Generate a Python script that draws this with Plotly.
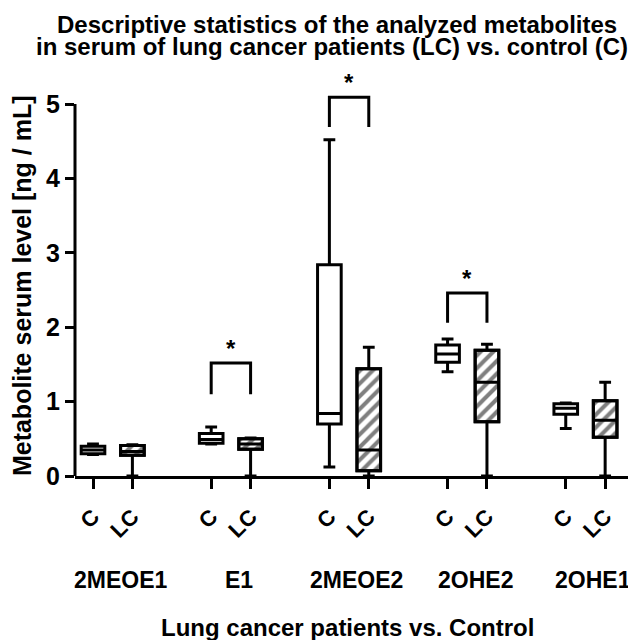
import plotly.graph_objects as go

# ---- data ----
categories = ["2MEOE1", "E1", "2MEOE2", "2OHE2", "2OHE1"]
group_labels = ["C", "LC"]

c_min = [0.29, 0.43, 0.12, 1.40, 0.64]
c_q1 = [0.30, 0.44, 0.70, 1.53, 0.83]
c_med = [0.35, 0.49, 0.84, 1.64, 0.91]
c_q3 = [0.40, 0.57, 2.84, 1.76, 0.97]
c_max = [0.43, 0.66, 4.52, 1.84, 0.98]

lc_min = [0.0, 0.0, 0.0, 0.0, 0.0]
lc_q1 = [0.28, 0.36, 0.07, 0.73, 0.52]
lc_med = [0.33, 0.43, 0.35, 1.26, 0.75]
lc_q3 = [0.41, 0.50, 1.44, 1.69, 1.01]
lc_max = [0.42, 0.51, 1.73, 1.77, 1.26]

# significance brackets
sig_cats = ["E1", "2MEOE2", "2OHE2"]
sig_top = [1.52, 5.09, 2.46]
sig_leg = [1.10, 4.69, 2.06]
sig_star = [1.72, 5.29, 2.66]

y_ticks = [0, 1, 2, 3, 4, 5]

FONT = "Liberation Sans, Arial, sans-serif"


def bfont(size):
    return dict(family=FONT, size=size, color="black", weight="bold")


# positions: C at 3*i, LC at 3*i+1
c_x = [3 * i for i in range(len(categories))]
lc_x = [3 * i + 1 for i in range(len(categories))]

fig = go.Figure()

# hatched bodies for LC boxes
fig.add_trace(go.Bar(
    x=lc_x, base=lc_q1, y=[q3 - q1 for q1, q3 in zip(lc_q1, lc_q3)],
    width=0.6,
    marker=dict(color="white", line=dict(color="black", width=3),
                pattern=dict(shape="/", fgcolor="black", bgcolor="white",
                             size=9, solidity=0.45)),
    showlegend=False, hoverinfo="skip"))

fig.add_trace(go.Box(
    x=c_x, q1=c_q1, median=c_med, q3=c_q3, lowerfence=c_min, upperfence=c_max,
    width=0.6, whiskerwidth=0.5, fillcolor="white",
    line=dict(color="black", width=3), boxpoints=False,
    showlegend=False, hoverinfo="skip"))

fig.add_trace(go.Box(
    x=lc_x, q1=lc_q1, median=lc_med, q3=lc_q3, lowerfence=lc_min, upperfence=lc_max,
    width=0.6, whiskerwidth=0.5, fillcolor="rgba(0,0,0,0)",
    line=dict(color="black", width=3), boxpoints=False,
    showlegend=False, hoverinfo="skip"))

shapes = []
annotations = []
for cat, top, leg, star in zip(sig_cats, sig_top, sig_leg, sig_star):
    i = categories.index(cat)
    x0, x1 = c_x[i], lc_x[i]
    shapes.append(dict(type="path", xref="x", yref="y",
                       path=f"M {x0} {leg} L {x0} {top} L {x1} {top} L {x1} {leg}",
                       line=dict(color="black", width=3)))
    annotations.append(dict(x=(x0 + x1) / 2, y=star, xref="x", yref="y", text="*",
                            showarrow=False, font=bfont(24), yanchor="middle"))

# y axis line from 0 to 5
shapes.append(dict(type="line", xref="paper", yref="y", x0=0, x1=0, y0=0, y1=5,
                   line=dict(color="black", width=3)))

for i, cat in enumerate(categories):
    annotations.append(dict(x=(c_x[i] + lc_x[i]) / 2 + 0.2, y=-0.256, xref="x", yref="paper",
                            text=cat, showarrow=False, yanchor="middle", font=bfont(23)))

annotations.append(dict(x=0.492, y=-0.372, xref="paper", yref="paper",
                        text="Lung cancer patients vs. Control", showarrow=False,
                        yanchor="middle", font=bfont(24)))
annotations.append(dict(x=-0.096, y=0.47, xref="paper", yref="paper", textangle=-90,
                        text="Metabolite serum level [ng / mL]", showarrow=False,
                        xanchor="center", yanchor="middle", font=bfont(25)))
annotations.append(dict(x=0.474, y=1.112, xref="paper", yref="paper",
                        text="Descriptive statistics of the analyzed metabolites",
                        showarrow=False, yanchor="middle", xanchor="center", font=bfont(24)))
annotations.append(dict(x=0.464, y=1.057, xref="paper", yref="paper",
                        text="in serum of lung cancer patients (LC) vs. control (C)",
                        showarrow=False, yanchor="middle", xanchor="center", font=bfont(24)))

tick_vals = []
tick_text = []
for i in range(len(categories)):
    tick_vals += [c_x[i], lc_x[i]]
    tick_text += group_labels

# the page body adds an 8px offset; size the figure to the visible area
fig.update_layout(
    width=628, height=632,
    margin=dict(l=67, r=8, t=62, b=164),
    paper_bgcolor="white", plot_bgcolor="white",
    barmode="overlay", boxmode="overlay",
    shapes=shapes, annotations=annotations,
    xaxis=dict(range=[-0.457, 13.58], showgrid=False, zeroline=False, automargin=False,
               showline=True, linecolor="black", linewidth=3,
               tickmode="array", tickvals=tick_vals, ticktext=tick_text,
               ticks="outside", ticklen=10, tickwidth=3, tickcolor="black",
               tickangle=-45, ticklabelstandoff=6, tickfont=bfont(22)),
    yaxis=dict(range=[0, 5.457], showgrid=False, zeroline=False, showline=False,
               automargin=False,
               tickmode="array", tickvals=y_ticks,
               ticks="outside", ticklen=9, tickwidth=3, tickcolor="black",
               tickfont=bfont(25)),
)

fig.write_html("out.html")
